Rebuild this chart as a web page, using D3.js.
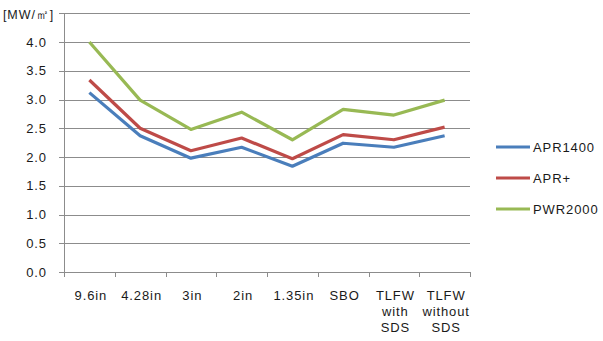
<!DOCTYPE html>
<html>
<head>
<meta charset="utf-8">
<script src="https://cdn.jsdelivr.net/npm/d3@7"></script>
<style>
  body { margin: 0; background: #fff; }
  text { font-family: "Liberation Sans", "DejaVu Sans", sans-serif; letter-spacing: 0.9px; }
</style>
</head>
<body>
<div id="host"><svg></svg></div>
<script>
const WIDTH = 603;
const HEIGHT = 341;

const categories = ["9.6in", "4.28in", "3in", "2in", "1.35in", "SBO", "TLFW\nwith\nSDS", "TLFW\nwithout\nSDS"];
const apr1400 = [3.12, 2.37, 1.98, 2.17, 1.84, 2.24, 2.17, 2.37];
const aprPlus = [3.34, 2.5, 2.11, 2.33, 1.97, 2.39, 2.3, 2.52];
const pwr2000 = [4.0, 2.99, 2.48, 2.78, 2.3, 2.83, 2.73, 2.99];
const yTicks = [0, 0.5, 1, 1.5, 2, 2.5, 3, 3.5, 4, 4.5];

const series = [
  { name: "APR1400", values: apr1400, color: "#4a7ebb" },
  { name: "APR+", values: aprPlus, color: "#be4b48" },
  { name: "PWR2000", values: pwr2000, color: "#98b954" },
];

const GRID = "#8c8c8c";

const svg = d3.select("#host svg").attr("width", WIDTH).attr("height", HEIGHT);

const x = d3.scaleBand().domain(categories).range([64, 470]);
const y = d3.scaleLinear().domain([0, 4.5]).range([272, 13.3]);

// gridlines
svg.append("g")
  .selectAll("line")
  .data(yTicks)
  .join("line")
  .attr("x1", 59)
  .attr("x2", 470)
  .attr("y1", (d) => Math.round(y(d)) + 0.5)
  .attr("y2", (d) => Math.round(y(d)) + 0.5)
  .attr("stroke", GRID)
  .attr("stroke-width", 1);

// y tick labels (skip top one)
svg.append("g")
  .selectAll("text")
  .data(yTicks.slice(0, -1))
  .join("text")
  .attr("x", 47)
  .attr("y", (d) => y(d) + 4.5)
  .attr("text-anchor", "end")
  .attr("font-size", 13)
  .attr("fill", "#1a1a1a")
  .text((d) => d.toFixed(1));

svg.append("text")
  .attr("x", 3)
  .attr("y", 19)
  .attr("font-size", 12.5)
  .attr("fill", "#1a1a1a")
  .text("[MW/㎡]");

// axes lines
svg.append("line")
  .attr("x1", 64.5).attr("x2", 64.5)
  .attr("y1", 13).attr("y2", 277)
  .attr("stroke", GRID);

svg.append("g")
  .selectAll("line")
  .data(categories)
  .join("line")
  .attr("x1", (d) => Math.round(x(d) + x.bandwidth()) + 0.5)
  .attr("x2", (d) => Math.round(x(d) + x.bandwidth()) + 0.5)
  .attr("y1", 272)
  .attr("y2", 277)
  .attr("stroke", GRID);

// x labels
const xl = svg.append("g")
  .selectAll("text")
  .data(categories)
  .join("text")
  .attr("x", (d) => x(d) + x.bandwidth() / 2 + 1.5)
  .attr("y", 300)
  .attr("text-anchor", "middle")
  .attr("font-size", 13)
  .attr("fill", "#1a1a1a");
xl.selectAll("tspan")
  .data((d) => d.split("\n"))
  .join("tspan")
  .attr("x", function () { return d3.select(this.parentNode).attr("x"); })
  .attr("dy", (d, i) => (i === 0 ? 0 : 16))
  .text((d) => d);

// lines
const line = d3.line()
  .x((d, i) => x(categories[i]) + x.bandwidth() / 2)
  .y((d) => y(d));

svg.append("g")
  .selectAll("path")
  .data(series)
  .join("path")
  .attr("d", (s) => line(s.values))
  .attr("fill", "none")
  .attr("stroke", (s) => s.color)
  .attr("stroke-width", 3.2)
  .attr("stroke-linejoin", "round");

// legend
const legend = svg.append("g")
  .selectAll("g")
  .data(series)
  .join("g")
  .attr("transform", (s, i) => `translate(496,${147 + i * 31})`);
legend.append("line")
  .attr("x1", 0).attr("x2", 34)
  .attr("stroke", (s) => s.color)
  .attr("stroke-width", 3.2);
legend.append("text")
  .attr("x", 37)
  .attr("y", 4.5)
  .attr("font-size", 13)
  .attr("fill", "#1a1a1a")
  .text((s) => s.name);
</script>
</body>
</html>
